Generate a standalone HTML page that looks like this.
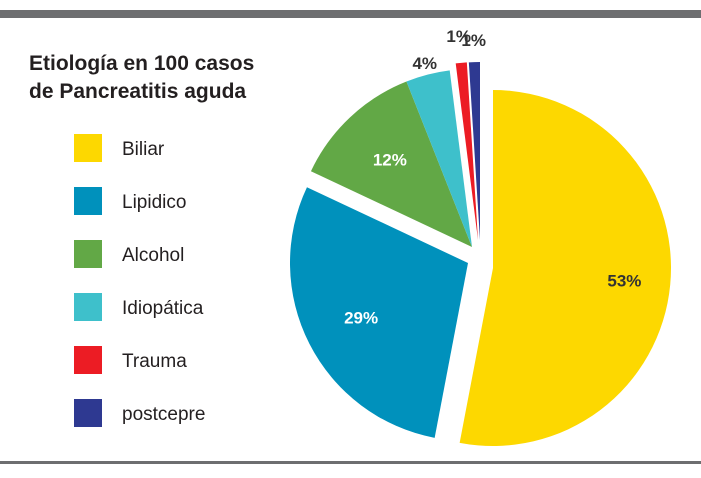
<!DOCTYPE html>
<html><head><meta charset="utf-8"><style>
body{margin:0;background:#fff;}
svg{display:block;font-family:"Liberation Sans",sans-serif;}
</style></head><body>
<svg id="c" width="701" height="478">
<rect x="0" y="10" width="701" height="8" fill="#6d6e70"/>
<rect x="0" y="461" width="701" height="3" fill="#6d6e70"/>
<text x="29" y="70" font-size="21" font-weight="bold" fill="#231f20">Etiología en 100 casos</text>
<text x="29" y="98" font-size="21" font-weight="bold" fill="#231f20">de Pancreatitis aguda</text>
<g id="slices"></g><g id="labels"></g><g id="legend"></g>
</svg>
<script>
const categories=["Biliar","Lipidico","Alcohol","Idiopática","Trauma","postcepre"];
const values=[53,29,12,4,1,1];
const labelText=["53%","29%","12%","4%","1%","1%"];
const colors=["#fdd800","#0091bc","#62a846","#3ec0cb","#ec1c24","#2e3991"];
const offX=[19,-6,-2,-2,4,6], offY=[18,13,-3,-3,-10,-10];
const labelR=[132,120,120,190,205,200], labelColor=["#333","#fff","#fff","#333","#333","#333"];
const cx=474, cy=250, r=178, NS="http://www.w3.org/2000/svg";
const total=values.reduce((a,b)=>a+b,0);
let acc=0;
const gs=document.getElementById('slices'), gl=document.getElementById('labels'), gg=document.getElementById('legend');
values.forEach((v,i)=>{
  const a0=acc/total*2*Math.PI; acc+=v; const a1=acc/total*2*Math.PI;
  const x=cx+offX[i], y=cy+offY[i];
  const p=a=>[x+r*Math.sin(a), y-r*Math.cos(a)];
  const s=p(a0), e=p(a1), large=(a1-a0)>Math.PI?1:0;
  const path=document.createElementNS(NS,'path');
  path.setAttribute('d',`M${x},${y}L${s[0]},${s[1]}A${r},${r} 0 ${large} 1 ${e[0]},${e[1]}Z`);
  path.setAttribute('fill',colors[i]);
  
  
  gs.appendChild(path);
  const am=(a0+a1)/2;
  const t=document.createElementNS(NS,'text');
  t.setAttribute('x',x+labelR[i]*Math.sin(am)); t.setAttribute('y',y-labelR[i]*Math.cos(am)+6);
  t.setAttribute('text-anchor','middle'); t.setAttribute('font-size','17'); t.setAttribute('font-weight','bold');
  t.setAttribute('fill',labelColor[i]); t.textContent=labelText[i];
  
  
  gl.appendChild(t);
  const sq=document.createElementNS(NS,'rect');
  sq.setAttribute('x',74); sq.setAttribute('y',134+i*53); sq.setAttribute('width',28); sq.setAttribute('height',28);
  sq.setAttribute('fill',colors[i]);
  
  
  gg.appendChild(sq);
  const lt=document.createElementNS(NS,'text');
  lt.setAttribute('x',122); lt.setAttribute('y',155+i*53); lt.setAttribute('font-size','19'); lt.setAttribute('fill','#231f20');
  lt.textContent=categories[i];
  
  
  gg.appendChild(lt);
});
</script>
</body></html>
